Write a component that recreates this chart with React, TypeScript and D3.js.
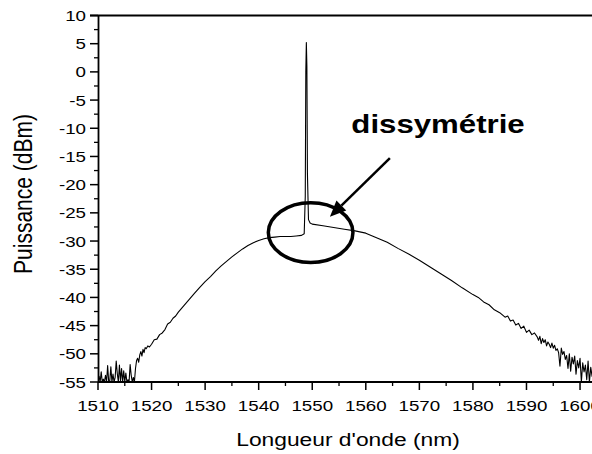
import React from 'react';
import * as d3 from 'd3';

// spectrum, [wavelength nm, power dBm]
const noiseLeft: [number, number][] = [
  [1510.0, -55], [1510.2, -54.0], [1510.4, -55], [1510.6, -53.2], [1510.8, -55], [1511.0, -54.5],
  [1511.2, -55], [1511.4, -53.8], [1511.6, -55], [1511.8, -52.1], [1512.0, -55], [1512.2, -54.8],
  [1512.4, -52.3], [1512.6, -55], [1512.8, -53.6], [1513.0, -55], [1513.2, -54.2], [1513.4, -51.3],
  [1513.6, -53.5], [1513.8, -55], [1514.0, -52.0], [1514.2, -54.8], [1514.4, -52.6], [1514.6, -55],
  [1514.8, -53.0], [1515.0, -55], [1515.2, -53.4], [1515.4, -55], [1515.6, -54.6], [1515.8, -55],
  [1516.0, -51.9], [1516.2, -53.8], [1516.4, -55], [1516.6, -54.2], [1516.8, -55], [1517.0, -52.6],
  [1517.2, -51.2], [1517.4, -50.8], [1517.6, -51.5], [1517.8, -50.2], [1518.0, -49.6], [1518.2, -50.4],
  [1518.4, -49.2], [1518.6, -49.8], [1518.8, -48.9], [1519.0, -49.1], [1519.3, -48.6], [1519.6, -48.8],
];

const risingSide: [number, number][] = [
  [1520, -48.3], [1520.5, -47.5], [1521, -47.4], [1521.5, -46.6], [1522, -46.3], [1522.5, -45.7],
  [1523, -44.7], [1523.5, -44.4], [1524, -43.7], [1524.5, -43.3], [1525, -42.6], [1526, -41.5],
  [1527, -40.4], [1528, -39.3], [1529, -38.2], [1530, -37.2], [1531, -36.3], [1532, -35.3],
  [1533, -34.4], [1534, -33.6], [1535, -32.8], [1536, -32.1], [1537, -31.4], [1538, -30.8],
  [1539, -30.3], [1540, -29.9], [1541, -29.6], [1542, -29.4], [1543, -29.3], [1544, -29.2],
  [1545, -29.2], [1546, -29.2], [1547, -29.1], [1548, -29.0], [1548.5, -28.7],
];

const laserPeak: [number, number][] = [
  [1548.7, -22], [1548.8, 0], [1548.9, 5.2], [1549.0, 1], [1549.1, -18], [1549.3, -26.2],
  [1549.6, -26.8],
];

const fallingSide: [number, number][] = [
  [1550, -27.0], [1552, -27.3], [1554, -27.6], [1556, -27.9], [1558, -28.2], [1560, -28.6],
  [1562, -29.4], [1564, -30.2], [1566, -31.3], [1568, -32.3], [1570, -33.4], [1572, -34.6],
  [1574, -35.8], [1576, -37.0], [1578, -38.3], [1580, -39.5], [1581, -40.0], [1582, -40.8],
  [1583, -41.3], [1584, -42.2], [1585, -42.7], [1586, -43.5], [1586.5, -43.3], [1587, -44.2],
  [1587.5, -44.0], [1588, -44.9], [1588.5, -44.6], [1589, -45.5], [1589.5, -45.1], [1590, -46.2],
  [1590.5, -45.8], [1591, -46.6], [1591.5, -46.3],
];

const noiseRight: [number, number][] = [
  [1592.0, -47.0], [1592.25, -47.6], [1592.5, -46.9], [1592.75, -48.2], [1593.0, -47.3],
  [1593.25, -48.0], [1593.5, -47.5], [1593.75, -48.6], [1594.0, -47.9], [1594.25, -48.3],
  [1594.5, -48.9], [1594.75, -48.1], [1595.0, -49.0], [1595.25, -48.5], [1595.5, -49.4],
  [1595.75, -49.1], [1596.0, -49.8], [1596.25, -52.2], [1596.5, -49.0], [1596.75, -50.1],
  [1597.0, -49.6], [1597.25, -51.0], [1597.5, -50.3], [1597.75, -52.6], [1598.0, -50.0],
  [1598.25, -53.1], [1598.5, -50.6], [1598.75, -51.8], [1599.0, -50.4], [1599.25, -53.6],
  [1599.5, -51.2], [1599.75, -52.5], [1600.0, -50.8], [1600.25, -55.0], [1600.5, -51.6],
  [1600.75, -53.2], [1601.0, -52.0], [1601.25, -54.6], [1601.5, -51.3], [1601.75, -55.0],
  [1602.0, -52.4], [1602.25, -54.0], [1602.5, -52.8], [1603.0, -55],
];

const xTicks = [1510, 1520, 1530, 1540, 1550, 1560, 1570, 1580, 1590, 1600];
const yTicks = [10, 5, 0, -5, -10, -15, -20, -25, -30, -35, -40, -45, -50, -55];

// annotation, in data units
const ringCenter: [number, number] = [1549.7, -28.5];
const ringRadius: [number, number] = [7.9, 5.3];
const arrowFrom: [number, number] = [1564.5, -15.3];
const arrowTo: [number, number] = [1553.3, -25.7];
const labelAt: [number, number] = [1557.3, -10.8];

const W = 592;
const H = 454;
const FONT = '"Liberation Sans", Arial, Helvetica, sans-serif';

const App: React.FC = () => {
  const spectrum = [...noiseLeft, ...risingSide, ...laserPeak, ...fallingSide, ...noiseRight];

  const x = d3.scaleLinear().domain([1510, 1610]).range([98, 633.6]);
  const y = d3.scaleLinear().domain([-55, 10]).range([382, 15.5]);

  const line = d3.line<[number, number]>()
    .x(d => x(d[0]))
    .y(d => y(d[1]));

  const minorX = d3.range(1510, 1610, 5).filter(v => !xTicks.includes(v));
  const minorY = d3.range(-55, 10, 2.5).filter(v => !yTicks.includes(v));

  // arrow head
  const ax0 = x(arrowFrom[0]), ay0 = y(arrowFrom[1]);
  const ax1 = x(arrowTo[0]), ay1 = y(arrowTo[1]);
  const ang = Math.atan2(ay1 - ay0, ax1 - ax0);
  const headLen = 16, headW = 7;
  const bx = ax1 - headLen * Math.cos(ang), by = ay1 - headLen * Math.sin(ang);
  const head = [
    [ax1, ay1],
    [bx + headW * Math.sin(ang), by - headW * Math.cos(ang)],
    [bx - headW * Math.sin(ang), by + headW * Math.cos(ang)],
  ].map(p => p.join(',')).join(' ');

  return (
    <svg width={W} height={H} style={{ position: 'absolute', left: 0, top: 0, background: '#fff' }}
      fontFamily={FONT}>
      <defs>
        <clipPath id="plot">
          <rect x={98} y={0} width={W - 98} height={382.5} />
        </clipPath>
      </defs>

      {/* spectrum */}
      <path d={line(spectrum) || ''} fill="none" stroke="#000" strokeWidth={1.1}
        strokeLinejoin="round" clipPath="url(#plot)" />

      {/* frame */}
      <line x1={90} x2={W} y1={y(10)} y2={y(10)} stroke="#000" strokeWidth={1.8} />
      <line x1={98.5} x2={98.5} y1={y(10)} y2={382} stroke="#000" strokeWidth={1.8} />
      <line x1={98} x2={W} y1={382} y2={382} stroke="#000" strokeWidth={1.8} />

      {/* y ticks */}
      {yTicks.map(t => (
        <g key={'y' + t}>
          <line x1={90} x2={98} y1={y(t)} y2={y(t)} stroke="#000" strokeWidth={1.5} />
          <text transform={`translate(86,${y(t) + 5.5}) scale(1.25,1)`} textAnchor="end" fontSize={15}>
            {t}
          </text>
        </g>
      ))}
      {minorY.map(t => (
        <line key={'my' + t} x1={94} x2={98} y1={y(t)} y2={y(t)} stroke="#000" strokeWidth={1.3} />
      ))}

      {/* x ticks */}
      {xTicks.map(t => (
        <g key={'x' + t}>
          <line x1={x(t)} x2={x(t)} y1={382} y2={390} stroke="#000" strokeWidth={1.5} />
          <text transform={`translate(${x(t)},410.5) scale(1.25,1)`} textAnchor="middle" fontSize={15}>
            {t}
          </text>
        </g>
      ))}
      {minorX.map(t => (
        <line key={'mx' + t} x1={x(t)} x2={x(t)} y1={382} y2={386} stroke="#000" strokeWidth={1.3} />
      ))}

      {/* axis titles */}
      <text transform="translate(348,446) scale(1.2,1)" textAnchor="middle" fontSize={19}>
        Longueur d'onde (nm)
      </text>
      <text transform="translate(32,194) scale(1.2,1) rotate(-90)" textAnchor="middle" fontSize={21}>
        Puissance (dBm)
      </text>

      {/* annotation */}
      <ellipse cx={x(ringCenter[0])} cy={y(ringCenter[1])}
        rx={x(ringCenter[0] + ringRadius[0]) - x(ringCenter[0])}
        ry={y(ringCenter[1]) - y(ringCenter[1] + ringRadius[1])}
        fill="none" stroke="#000" strokeWidth={3.5} />
      <line x1={ax0} y1={ay0} x2={bx} y2={by} stroke="#000" strokeWidth={2.5} />
      <polygon points={head} fill="#000" />
      <text transform={`translate(${x(labelAt[0])},${y(labelAt[1])}) scale(1.2,1)`}
        fontSize={26} fontWeight="bold">
        dissymétrie
      </text>
    </svg>
  );
};

export default App;
